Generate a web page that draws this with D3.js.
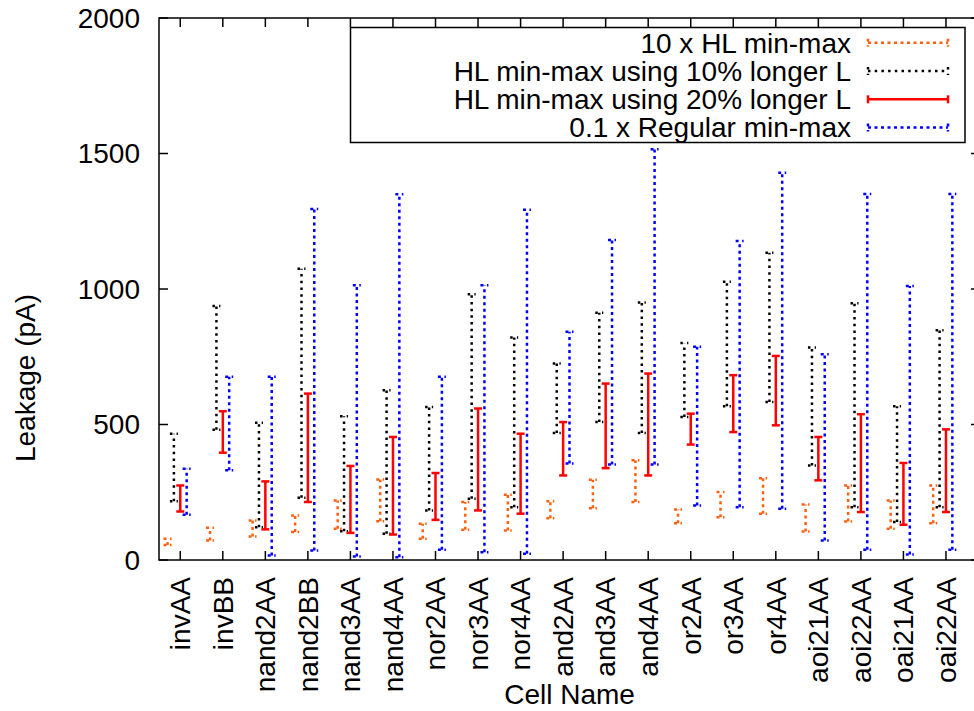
<!DOCTYPE html>
<html>
<head>
<meta charset="utf-8">
<script src="https://cdn.jsdelivr.net/npm/d3@7"></script>
<style>
  body { margin: 0; background: #fff; }
  text { font-family: "Liberation Sans", Arial, Helvetica, sans-serif; }
</style>
</head>
<body>
<div class="chart"></div>
<script>
// data (pA)
const cells = ["invAA", "invBB", "nand2AA", "nand2BB", "nand3AA", "nand4AA", "nor2AA", "nor3AA", "nor4AA",
  "and2AA", "and3AA", "and4AA", "or2AA", "or3AA", "or4AA", "aoi21AA", "aoi22AA", "oai21AA", "oai22AA"];
const hl10Min = [55, 72, 87, 103, 115, 143, 78, 112, 109, 154, 191, 214, 136, 158, 171, 105, 142, 115, 136];
const hl10Max = [78, 119, 146, 164, 220, 297, 134, 214, 241, 217, 296, 368, 186, 251, 302, 205, 275, 220, 275];
const longer10Min = [217, 481, 121, 230, 106, 97, 183, 226, 195, 469, 509, 469, 528, 567, 583, 349, 195, 140, 195];
const longer10Max = [466, 937, 506, 1075, 530, 626, 565, 981, 821, 725, 912, 950, 801, 1027, 1134, 784, 947, 567, 848];
const longer20Min = [179, 396, 113, 214, 100, 94, 148, 183, 171, 312, 339, 312, 426, 472, 497, 294, 177, 130, 177];
const longer20Max = [275, 549, 290, 614, 347, 454, 321, 559, 466, 509, 651, 688, 540, 682, 753, 454, 538, 358, 482];
const regMin = [167, 331, 17, 35, 13, 10, 38, 29, 23, 356, 352, 352, 201, 195, 189, 72, 38, 20, 38];
const regMax = [337, 676, 676, 1295, 1014, 1350, 676, 1014, 1292, 842, 1181, 1516, 787, 1177, 1429, 759, 1351, 1011, 1351];
const yTicks = [0, 500, 1000, 1500, 2000];

const series = [
  { name: "10 x HL min-max", min: hl10Min, max: hl10Max, color: "#ff6010", dash: "3,3.5", off: -0.3 },
  { name: "HL min-max using 10% longer L", min: longer10Min, max: longer10Max, color: "#000", dash: "2.5,4.2", off: -0.15 },
  { name: "HL min-max using 20% longer L", min: longer20Min, max: longer20Max, color: "#ff0000", dash: null, off: 0 },
  { name: "0.1 x Regular min-max", min: regMin, max: regMax, color: "#0000ff", dash: "3,3.5", off: 0.15 }
];

const W = 974, H = 711;
const plot = { left: 159, right: 980, top: 18, bottom: 560 };
const fs = 28;

const svg = d3.select(".chart").append("svg")
  .attr("width", W)
  .attr("height", H);

const x = d3.scaleLinear().domain([-0.5, 18.8]).range([plot.left, plot.right]);
const y = d3.scaleLinear().domain([0, 2000]).range([plot.bottom, plot.top]);

function label(g, px, py, str, anchor, rot) {
  return g.append("text")
    .attr("transform", `translate(${px},${py})` + (rot ? ` rotate(${rot})` : ""))
    .attr("font-size", fs)
    .attr("text-anchor", anchor)
    .attr("dy", "0.35em")
    .text(str);
}

// axes (inward ticks, mirrored on top and right)
const axes = svg.append("g").attr("stroke", "#000").attr("stroke-width", 1.5);
axes.append("rect")
  .attr("x", plot.left).attr("y", plot.top)
  .attr("width", plot.right - plot.left).attr("height", plot.bottom - plot.top)
  .attr("fill", "none");
yTicks.forEach(v => {
  axes.append("line").attr("x1", plot.left).attr("x2", plot.left + 9).attr("y1", y(v)).attr("y2", y(v));
  axes.append("line").attr("x1", plot.right).attr("x2", plot.right - 9).attr("y1", y(v)).attr("y2", y(v));
  label(svg, 140, y(v), v, "end");
});
cells.forEach((c, i) => {
  axes.append("line").attr("x1", x(i)).attr("x2", x(i)).attr("y1", plot.bottom).attr("y2", plot.bottom - 9);
  axes.append("line").attr("x1", x(i)).attr("x2", x(i)).attr("y1", plot.top).attr("y2", plot.top + 9);
  label(svg, x(i), 577, c, "end", -90);
});

label(svg, 25, 378, "Leakage (pA)", "middle", -90);
label(svg, (plot.left + plot.right) / 2, 694, "Cell Name", "middle");

// error bars
const bars = svg.append("g");
series.forEach(s => {
  const g = bars.append("g")
    .attr("stroke", s.color)
    .attr("stroke-width", 2.5)
    .attr("stroke-dasharray", s.dash)
    .attr("fill", "none");
  cells.forEach((c, i) => {
    const cx = x(i + s.off);
    g.append("line").attr("x1", cx).attr("x2", cx).attr("y1", y(s.min[i])).attr("y2", y(s.max[i]));
    [s.min[i], s.max[i]].forEach(v => {
      g.append("line").attr("x1", cx - 4).attr("x2", cx + 4).attr("y1", y(v)).attr("y2", y(v));
    });
  });
});

// legend
const key = svg.append("g");
key.append("rect")
  .attr("x", 350.5).attr("y", 27.5).attr("width", 614.5).attr("height", 115)
  .attr("fill", "none").attr("stroke", "#000").attr("stroke-width", 1.5);
series.forEach((s, k) => {
  const ry = 42.7 + k * 28.3;
  label(key, 851, ry, s.name, "end");
  const g = key.append("g")
    .attr("stroke", s.color)
    .attr("stroke-width", 2.5)
    .attr("stroke-dasharray", s.dash);
  g.append("line").attr("x1", 868).attr("x2", 948).attr("y1", ry).attr("y2", ry);
  [868, 948].forEach(ex => {
    g.append("line").attr("x1", ex).attr("x2", ex).attr("y1", ry - 4).attr("y2", ry + 4);
  });
});
</script>
</body>
</html>
